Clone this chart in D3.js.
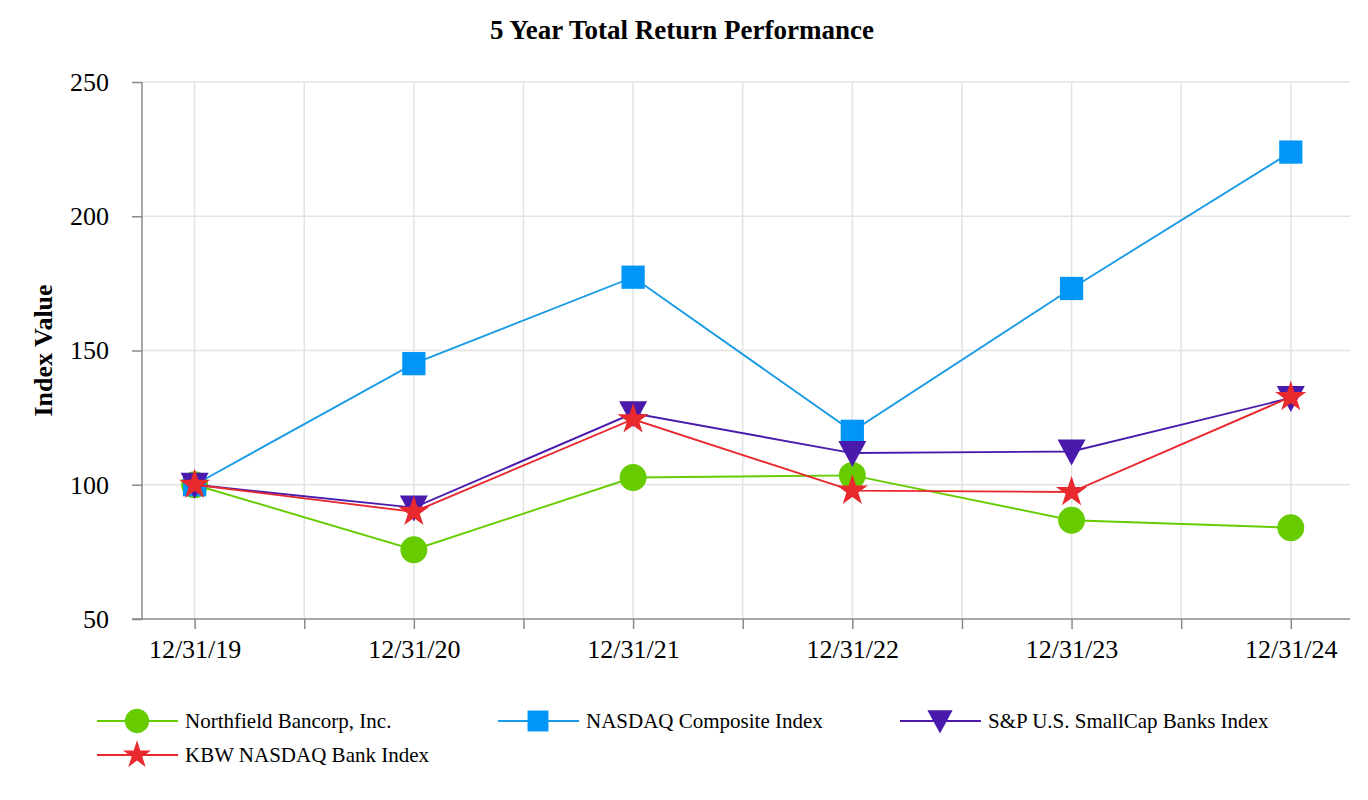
<!DOCTYPE html>
<html>
<head>
<script src="https://cdn.jsdelivr.net/npm/d3@7"></script>
<style>
  body { margin: 0; background: #fff; }
  text { font-family: "Liberation Serif", "Times New Roman", serif; }
</style>
</head>
<body>
<div id="chart"></div>
<script>
var dates = ["12/31/19", "12/31/20", "12/31/21", "12/31/22", "12/31/23", "12/31/24"];
var northfield = [100, 75.8, 102.7, 103.5, 86.8, 84.0];
var nasdaq = [100, 145.1, 177.3, 119.9, 173.1, 223.9];
var smallcap = [100, 91.5, 126.6, 111.8, 112.4, 132.3];
var kbw = [100, 89.9, 124.4, 97.8, 97.3, 132.7];
var yTicks = [50, 100, 150, 200, 250];

var series = [
  { name: "Northfield Bancorp, Inc.", values: northfield, color: "#66cc00", shape: "circle" },
  { name: "NASDAQ Composite Index", values: nasdaq, color: "#0095f6", line: "#1a9be6", shape: "square" },
  { name: "S&P U.S. SmallCap Banks Index", values: smallcap, color: "#4a1aac", shape: "triangle" },
  { name: "KBW NASDAQ Bank Index", values: kbw, color: "#e8292e", shape: "star" }
];

var w = 1368, h = 800;
var pLeft = 142, pRight = 1350, pTop = 82, pBottom = 619;

var svg = d3.select("#chart").append("svg").attr("width", w).attr("height", h);

var x = d3.scaleLinear().domain([-0.24, 5.27]).range([pLeft, pRight]);
var y = d3.scaleLinear().domain([50, 250]).range([pBottom, pTop]);

// gridlines
var half = d3.range(0, 5.5, 0.5);
svg.append("g").selectAll("line").data(half).enter().append("line")
  .attr("x1", function(d){ return x(d); }).attr("x2", function(d){ return x(d); })
  .attr("y1", pTop).attr("y2", pBottom)
  .style("stroke", "#e3e3e3").style("stroke-width", 1.5);
svg.append("g").selectAll("line").data(yTicks.slice(1)).enter().append("line")
  .attr("x1", pLeft).attr("x2", pRight)
  .attr("y1", function(d){ return y(d); }).attr("y2", function(d){ return y(d); })
  .style("stroke", "#e3e3e3").style("stroke-width", 1.5);

// axes
var yAxis = d3.axisLeft(y).tickValues(yTicks).tickSize(10).tickPadding(23);
var ga = svg.append("g").attr("transform", "translate(" + pLeft + ",0)").call(yAxis);
ga.selectAll("text").style("font-size", "26px").style("fill", "#000").style("font-family", "Liberation Serif");
ga.selectAll("line, path").style("stroke", "#8a8a8a").style("stroke-width", 1.5);
ga.select("path").attr("d", "M0," + pTop + "V" + pBottom);

var xAxis = d3.axisBottom(x).tickValues(half).tickSize(10).tickFormat(function(d){
  return Number.isInteger(d) ? dates[d] : "";
}).tickPadding(11);
var gx = svg.append("g").attr("transform", "translate(0," + pBottom + ")").call(xAxis);
gx.selectAll("text").style("font-size", "26px").style("fill", "#000").style("font-family", "Liberation Serif");
gx.selectAll("line, path").style("stroke", "#8a8a8a").style("stroke-width", 1.5);
gx.select("path").attr("d", "M" + (pLeft - 10) + ",0H" + pRight);

// title and axis label
svg.append("text").attr("x", 682).attr("y", 39).attr("text-anchor", "middle")
  .style("font-size", "27px").style("font-weight", "bold").text("5 Year Total Return Performance");
svg.append("text").attr("transform", "translate(52," + ((pTop + pBottom) / 2) + ") rotate(-90)")
  .attr("text-anchor", "middle").style("font-size", "26px").style("font-weight", "bold").text("Index Value");

function symbolPath(shape) {
  if (shape === "circle") return d3.symbol().type(d3.symbolCircle).size(570)();
  if (shape === "square") return d3.symbol().type(d3.symbolSquare).size(540)();
  if (shape === "triangle") return "M-14,-12L14,-12L0,14Z";
  return d3.symbol().type(d3.symbolStar).size(300)();
}

var line = d3.line().x(function(d, i){ return x(i); }).y(function(d){ return y(d); });

series.forEach(function(s){
  var g = svg.append("g");
  g.append("path").datum(s.values).attr("d", line)
    .style("fill", "none").style("stroke", s.line || s.color).style("stroke-width", 1.9);
  g.selectAll("path.m").data(s.values).enter().append("path").attr("class", "m")
    .attr("transform", function(d, i){ return "translate(" + x(i) + "," + y(d) + ")"; })
    .attr("d", symbolPath(s.shape))
    .style("fill", s.color);
});

// legend
var legPos = [[97, 721], [498, 721], [900, 721], [97, 755]];
series.forEach(function(s, i){
  var g = svg.append("g").attr("transform", "translate(" + legPos[i][0] + "," + legPos[i][1] + ")");
  g.append("line").attr("x1", 0).attr("x2", 81).attr("y1", 0).attr("y2", 0)
    .style("stroke", s.line || s.color).style("stroke-width", 1.9);
  g.append("path").attr("d", symbolPath(s.shape))
    .attr("transform", "translate(40,0) scale(0.9)").style("fill", s.color);
  g.append("text").attr("x", 88).attr("y", 7).style("font-size", "21px").text(s.name);
});
</script>
</body>
</html>
